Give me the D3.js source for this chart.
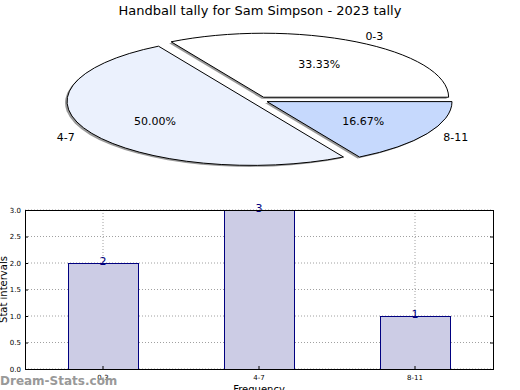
<!DOCTYPE html>
<html>
<head>
<meta charset="utf-8">
<script src="https://cdn.jsdelivr.net/npm/d3@7"></script>
<style>
  body { margin: 0; background: #fff; }
  text { font-family: "DejaVu Sans", sans-serif; }
</style>
</head>
<body>
<div id="chart"></div>
<script>
const width = 520;
const height = 390;

const categories = ['0-3', '4-7', '8-11'];
const counts = [2, 3, 1];
const pie_colors = ['#ffffff', '#ebf1fd', '#c6d9fd'];
const y_ticks = [0, 0.5, 1, 1.5, 2, 2.5, 3];

const svg = d3.select('#chart')
  .append('svg')
    .attr('width', width)
    .attr('height', height);

svg.append('text')
  .attr('x', 260)
  .attr('y', 15)
  .attr('text-anchor', 'middle')
  .style('font-size', '13px')
  .text('Handball tally for Sam Simpson - 2023 tally');

// Pie (squashed ellipse, counter-clockwise from 3 o'clock like matplotlib)
const pie_c = { x: 259, y: 100 };
const rx = 185, ry = 64, explode = 0.05;
const total = d3.sum(counts);
const slices = d3.pie().sort(null)
  .startAngle(Math.PI / 2)
  .endAngle(Math.PI / 2 - 2 * Math.PI)(counts);
const arc = d3.arc().innerRadius(0).outerRadius(1);
const mid = d => (d.startAngle + d.endAngle) / 2;
const off = (d, r) => [Math.sin(mid(d)) * r, -Math.cos(mid(d)) * r];

const pie_g = svg.append('g')
  .attr('transform', `translate(${pie_c.x},${pie_c.y})`);

// shadows
pie_g.selectAll('.shadow')
    .data(slices)
  .join('path')
    .attr('class', 'shadow')
    .attr('transform', d => {
      let [ox, oy] = off(d, explode);
      return `translate(${ox * rx - 2},${oy * ry + 1.5})scale(${rx},${ry})`;
    })
    .attr('d', arc)
    .attr('fill', '#808080')
    .attr('opacity', 0.8);

pie_g.selectAll('.slice')
    .data(slices)
  .join('path')
    .attr('class', 'slice')
    .attr('transform', d => {
      let [ox, oy] = off(d, explode);
      return `translate(${ox * rx},${oy * ry})scale(${rx},${ry})`;
    })
    .attr('d', arc)
    .attr('fill', (d, i) => pie_colors[i])
    .attr('stroke', '#000')
    .attr('stroke-width', 1)
    .attr('vector-effect', 'non-scaling-stroke');

pie_g.selectAll('.pct')
    .data(slices)
  .join('text')
    .attr('class', 'pct')
    .attr('x', d => (off(d, explode)[0] + off(d, 0.6)[0]) * rx)
    .attr('y', d => (off(d, explode)[1] + off(d, 0.6)[1]) * ry + 4)
    .attr('text-anchor', 'middle')
    .style('font-size', '11px')
    .text(d => (d.value / total * 100).toFixed(2) + '%');

pie_g.selectAll('.plabel')
    .data(slices)
  .join('text')
    .attr('class', 'plabel')
    .attr('x', d => (off(d, explode)[0] + off(d, 1.1)[0]) * rx)
    .attr('y', d => (off(d, explode)[1] + off(d, 1.1)[1]) * ry + 4)
    .attr('text-anchor', d => Math.sin(mid(d)) > 0 ? 'start' : 'end')
    .style('font-size', '11px')
    .text((d, i) => categories[i]);

// Bar chart
const plot = { left: 25, right: 493, top: 210, bottom: 369 };
const x_scale = d3.scaleBand()
  .domain(categories)
  .range([plot.left, plot.right]);
const y_scale = d3.scaleLinear()
  .domain([0, 3])
  .range([plot.bottom, plot.top]);
const bar_w = x_scale.bandwidth() * 0.45;
const cx = c => x_scale(c) + x_scale.bandwidth() / 2;

const grid = svg.append('g')
  .attr('stroke', '#a0a0a0')
  .attr('stroke-dasharray', '1,2');
grid.selectAll('.hgrid')
    .data(y_ticks)
  .join('line')
    .attr('x1', plot.left).attr('x2', plot.right)
    .attr('y1', d => y_scale(d)).attr('y2', d => y_scale(d));

svg.selectAll('.bar')
    .data(counts)
  .join('rect')
    .attr('class', 'bar')
    .attr('x', (d, i) => Math.round(cx(categories[i]) - bar_w / 2) + 0.5)
    .attr('y', d => Math.round(y_scale(d)) + 0.5)
    .attr('width', Math.round(bar_w))
    .attr('height', d => Math.round(y_scale(0) - y_scale(d)))
    .attr('fill', '#ccccE5')
    .attr('stroke', '#000080')
    .attr('stroke-width', 1);

grid.selectAll('.vgrid')
    .data(categories)
  .join('line')
    .attr('x1', d => cx(d)).attr('x2', d => cx(d))
    .attr('y1', plot.top).attr('y2', plot.bottom);

svg.selectAll('.val')
    .data(counts)
  .join('text')
    .attr('class', 'val')
    .attr('x', (d, i) => cx(categories[i]))
    .attr('y', d => y_scale(d) + 2)
    .attr('text-anchor', 'middle')
    .attr('fill', '#000080')
    .style('font-size', '11px')
    .text(d => d);

svg.append('rect')
  .attr('x', plot.left + 0.5).attr('y', plot.top + 0.5)
  .attr('width', plot.right - plot.left)
  .attr('height', plot.bottom - plot.top)
  .attr('fill', 'none')
  .attr('stroke', '#000');

const y_axis = svg.append('g')
  .attr('transform', `translate(${plot.left},0)`)
  .call(d3.axisLeft(y_scale).tickValues(y_ticks).tickFormat(d3.format('.1f')).tickSize(-3).tickPadding(4));
y_axis.select('.domain').remove();
y_axis.selectAll('text').style('font-size', '7px').style('font-family', '"DejaVu Sans", sans-serif');

const y_axis_r = svg.append('g')
  .attr('transform', `translate(${plot.right},0)`)
  .call(d3.axisRight(y_scale).tickValues(y_ticks).tickFormat('').tickSize(-3));
y_axis_r.select('.domain').remove();

const x_axis = svg.append('g')
  .attr('transform', `translate(0,${plot.bottom})`)
  .call(d3.axisBottom(x_scale).tickSize(-3).tickPadding(6));
x_axis.select('.domain').remove();
x_axis.selectAll('text').style('font-size', '7px').style('font-family', '"DejaVu Sans", sans-serif');

svg.append('text')
  .attr('transform', `translate(7,${(plot.top + plot.bottom) / 2}) rotate(-90)`)
  .attr('text-anchor', 'middle')
  .style('font-size', '10px')
  .text('Stat intervals');

svg.append('text')
  .attr('x', (plot.left + plot.right) / 2)
  .attr('y', 393)
  .attr('text-anchor', 'middle')
  .style('font-size', '10px')
  .text('Frequency');

svg.append('text')
  .attr('x', 0)
  .attr('y', 385)
  .attr('fill', '#999')
  .style('font-size', '12px')
  .style('font-weight', 'bold')
  .text('Dream-Stats.com');
</script>
</body>
</html>
